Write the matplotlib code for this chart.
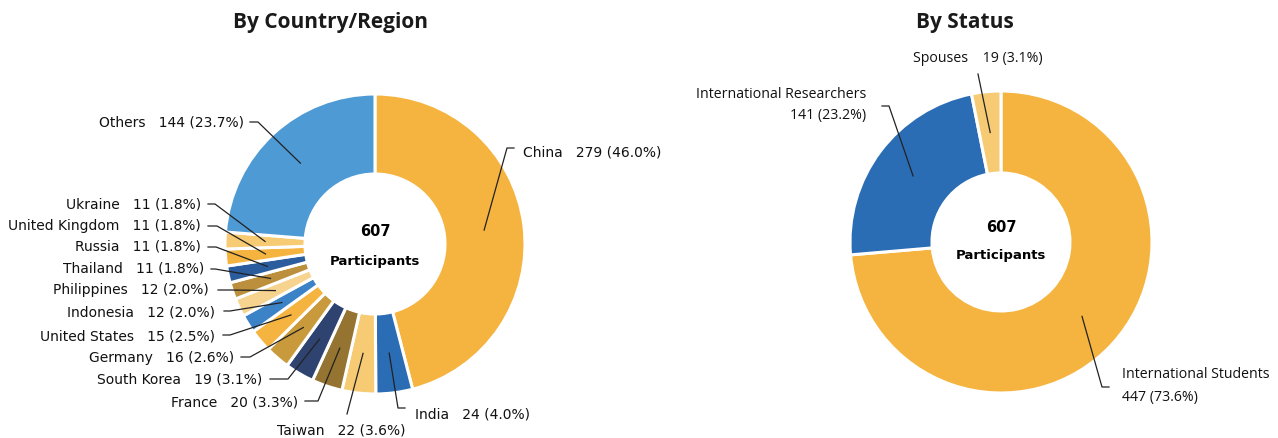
import numpy as np
import matplotlib
matplotlib.use('Agg')
import matplotlib.pyplot as plt

# data
countries = ['China', 'India', 'Taiwan', 'France', 'South Korea', 'Germany',
             'United States', 'Indonesia', 'Philippines', 'Thailand', 'Russia',
             'United Kingdom', 'Ukraine', 'Others']
country_counts = [279, 24, 22, 20, 19, 16, 15, 12, 12, 11, 11, 11, 11, 144]
country_pct = ['46.0', '4.0', '3.6', '3.3', '3.1', '2.6', '2.5', '2.0', '2.0',
               '1.8', '1.8', '1.8', '1.8', '23.7']

statuses = ['International Students', 'International Researchers', 'Spouses']
status_counts = [447, 141, 19]
status_pct = ['73.6', '23.2', '3.1']

total = 607

# colours
country_colors = ['#F5B43F', '#2A6DB5', '#F6CB74', '#957330', '#2F4370', '#C99A3B',
                  '#F5B43F', '#3B82C6', '#F6D38E', '#BC8F3C', '#2B5C9E',
                  '#F5B43F', '#F6CB74', '#4E9AD4']
status_colors = ['#F5B43F', '#2A6DB5', '#F6CB74']

W, H = 1278, 439
fig = plt.figure(figsize=(W / 100, H / 100), dpi=100)
ax = fig.add_axes([0, 0, 1, 1])


def py(y):
    # pixel row -> data y
    return H - y


def donut(values, colors, cx, cy, r_out, r_in):
    ax.pie(values, colors=colors, startangle=90, counterclock=False,
           center=(cx, py(cy)), radius=r_out,
           wedgeprops=dict(width=r_out - r_in, edgecolor='white', linewidth=2.2))


def leaders(values, cx, cy, r_mid, layout):
    cum = np.cumsum([0] + list(values[:-1]))
    for v, c, (ex, ey, hx) in zip(values, cum, layout):
        ang = np.deg2rad(90 - 360.0 * (c + v / 2.0) / sum(values))
        sx = cx + r_mid * np.cos(ang)
        sy = cy - r_mid * np.sin(ang)
        ax.plot([sx, ex, hx], [py(sy), py(ey), py(ey)], color='#222222', lw=0.9)


# ---- left chart: by country/region
lcx, lcy = 375, 245
donut(country_counts, country_colors, lcx, lcy, 150, 70)

# (elbow x, elbow y, end x) in pixels
left_layout = [(507, 149, 514), (398, 409, 405), (347, 415, 347), (318, 402, 305),
               (288, 380, 270), (250, 358, 241), (230, 336, 223), (230, 312, 224),
               (230, 291, 218), (215, 270, 211), (216, 248, 208), (217, 227, 208),
               (215, 205, 208), (258, 123, 250)]
leaders(country_counts, lcx, lcy, 110, left_layout)

# (text x, text y, ha)
left_text = [(523, 152, 'left'), (415, 415, 'left'), (341, 431, 'center'),
             (298, 403, 'right'), (262, 380, 'right'), (234, 358, 'right'),
             (215, 336, 'right'), (215, 312, 'right'), (209, 290, 'right'),
             (204, 269, 'right'), (201, 247, 'right'), (201, 226, 'right'),
             (201, 205, 'right'), (244, 123, 'right')]
for name, n, p, (tx, ty, ha) in zip(countries, country_counts, country_pct, left_text):
    ax.text(tx, py(ty), f'{name}   {n} ({p}%)', ha=ha, va='center',
            fontsize=10, family='DejaVu Sans', color='#111111')

ax.text(lcx, py(231), str(total), ha='center', va='center', fontsize=10.5,
        fontweight='bold', family='DejaVu Sans')
ax.text(lcx, py(261), 'Participants', ha='center', va='center', fontsize=9.5,
        fontweight='bold', family='DejaVu Sans')
ax.text(330, py(22), 'By Country/Region', ha='center', va='center', fontsize=15,
        fontweight='bold', family='Open Sans', color='#1a1a1a')

# ---- right chart: by status
rcx, rcy = 1001, 243
donut(status_counts, status_colors, rcx, rcy, 151, 69)

right_layout = [(1102, 388, 1109), (889, 107, 882), (978, 75, 978)]
leaders(status_counts, rcx, rcy, 110, right_layout)

fs = 10.2
ax.text(1122, py(375), statuses[0], ha='left', va='center', fontsize=fs,
        family='Open Sans', color='#111111')
ax.text(1122, py(398), f'{status_counts[0]} ({status_pct[0]}%)', ha='left',
        va='center', fontsize=fs, family='Open Sans', color='#111111')
ax.text(866, py(94), statuses[1], ha='right', va='center', fontsize=fs,
        family='Open Sans', color='#111111')
ax.text(866, py(116), f'{status_counts[1]} ({status_pct[1]}%)', ha='right',
        va='center', fontsize=fs, family='Open Sans', color='#111111')
ax.text(978, py(58), f'{statuses[2]}    {status_counts[2]} ({status_pct[2]}%)',
        ha='center', va='center', fontsize=fs, family='Open Sans', color='#111111')

ax.text(rcx, py(227), str(total), ha='center', va='center', fontsize=10.5,
        fontweight='bold', family='DejaVu Sans')
ax.text(rcx, py(256), 'Participants', ha='center', va='center', fontsize=9.5,
        fontweight='bold', family='DejaVu Sans')
ax.text(965, py(22), 'By Status', ha='center', va='center', fontsize=15,
        fontweight='bold', family='Open Sans', color='#1a1a1a')

ax.set_xlim(0, W)
ax.set_ylim(0, H)
ax.set_aspect('equal')
ax.axis('off')

fig.savefig('out.png', dpi=100, facecolor='white')
